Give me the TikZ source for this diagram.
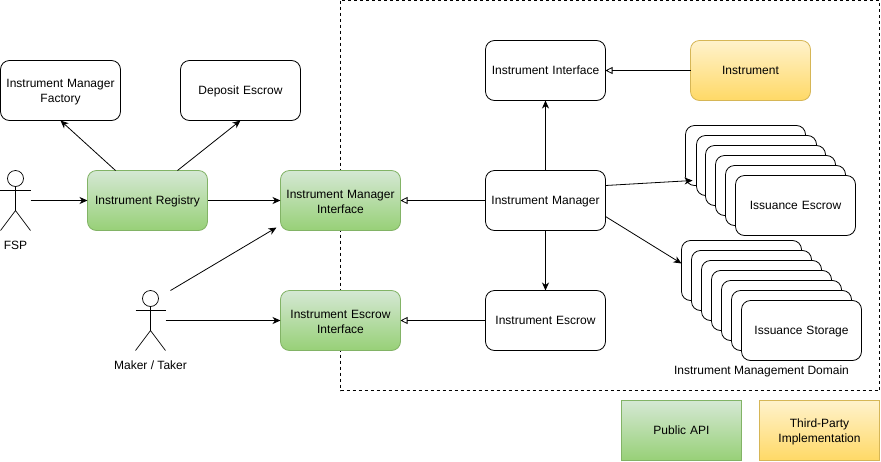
\documentclass[tikz,border=0pt]{standalone}
\usepackage{fontspec}
\setmainfont{Liberation Sans}
\usetikzlibrary{calc,arrows.meta}

\definecolor{apitop}{HTML}{D5E8D4}
\definecolor{apibottom}{HTML}{97D077}
\definecolor{apiline}{HTML}{82B366}
\definecolor{partytop}{HTML}{FFF2CC}
\definecolor{partybottom}{HTML}{FFD966}
\definecolor{partyline}{HTML}{D6B656}

\tikzset{
	box/.style={draw, line width=0.8pt, rounded corners=9pt, fill=white, align=center,
		minimum width=120pt, minimum height=60pt, inner sep=2pt, outer sep=0pt, text width=116pt,
		execute at end node={\vspace*{-3pt}}},
	publicbox/.style={box, draw=apiline, top color=apitop, bottom color=apibottom},
	thirdbox/.style={box, draw=partyline, top color=partytop, bottom color=partybottom},
	actor/.style={line width=0.7pt},
	flow/.style={-{Stealth[length=8pt,width=7pt,inset=2.5pt]}, line width=0.8pt},
	realize/.style={-{Triangle[open,length=7pt,width=7pt]}, line width=0.8pt},
	caption/.style={inner sep=1pt}
}

\begin{document}
\begin{tikzpicture}[x=1pt, y=-1pt, font=\fontsize{12}{14.5}\selectfont]

	\useasboundingbox (-0.5,-0.5) rectangle (880.5,460.5);

	% ---- domain frame

	\draw[dashed, dash pattern=on 3pt off 3pt, line width=0.8pt] (340,0) rectangle (879,390);

	% ---- boxes

	\node[box] (factory) at (60,90) {Instrument Manager\\Factory};
	\node[box] (deposit) at (240,90) {Deposit Escrow};
	\node[publicbox] (registry) at (147,200) {Instrument Registry};
	\node[publicbox] (managerapi) at (340,200) {Instrument Manager\\Interface};
	\node[publicbox] (escrowapi) at (340,320) {Instrument Escrow\\Interface};
	\node[box] (interface) at (545,70) {Instrument Interface};
	\node[thirdbox] (instrument) at (750,70) {Instrument};
	\node[box] (manager) at (545,200) {Instrument Manager};
	\node[box] (escrow) at (545,320) {Instrument Escrow};

	% ---- stacks

	\foreach \i/\x/\y in {1/745/155, 2/756/165, 3/765/175, 4/775/185, 5/785/195} {
		\node[box] (issuanceescrow\i) at (\x,\y) {};
	}
	\node[box] (issuanceescrow) at (795,205) {Issuance Escrow};

	\foreach \i in {1,...,6} {
		\node[box] (issuancestorage\i) at ({731+10*\i},{260+10*\i}) {};
	}
	\node[box] (issuancestorage) at (801,330) {Issuance Storage};

	\node[caption] (domain) at (761,371) {Instrument Management Domain};

	% ---- legend

	\node[publicbox, rounded corners=0pt] (legendapi) at (681,430) {Public API};
	\node[thirdbox, rounded corners=0pt] (legendparty) at (819,430) {Third-Party\\Implementation};

	% ---- actors

	\coordinate (fsp) at (15,190);
	\coordinate (maker) at (150,310);

	\foreach \a in {fsp,maker} {
		\draw[actor] ($(\a)+(0,-12)$) circle (8pt);
		\draw[actor] ($(\a)+(-15,0)$) -- ($(\a)+(15,0)$);
		\draw[actor] ($(\a)+(0,-4)$) -- ($(\a)+(0,20)$);
		\draw[actor] ($(\a)+(-15,40)$) -- ($(\a)+(0,20)$) -- ($(\a)+(15,40)$);
	}

	\node[caption] (fsplabel) at (15,245) {FSP};
	\node[caption] (makerlabel) at (150,365) {Maker / Taker};

	% ---- free ends

	\coordinate (fspout) at (30,200);
	\coordinate (makerup) at (170,290);
	\coordinate (makerout) at (165,320);
	\coordinate (stackone) at (692,180);
	\coordinate (stacktwo) at (681,263);

	% ---- connectors

	\draw[flow] (fspout) -- (registry.west);
	\draw[flow] ([xshift=28pt]registry.north west) -- (factory.south);
	\draw[flow] ([xshift=90pt]registry.north west) -- (deposit.south);
	\draw[flow] (registry.east) -- (managerapi.west);
	\draw[flow] (makerup) -- ([xshift=-4pt,yshift=3pt]managerapi.south west);
	\draw[flow] (makerout) -- (escrowapi.west);
	\draw[flow] (manager.north) -- (interface.south);
	\draw[flow] (manager.south) -- (escrow.north);
	\draw[flow] ([yshift=15pt]manager.east) -- (stackone);
	\draw[flow] ([yshift=-16pt]manager.east) -- (stacktwo);

	\draw[realize] (instrument.west) -- (interface.east);
	\draw[realize] (manager.west) -- (managerapi.east);
	\draw[realize] (escrow.west) -- (escrowapi.east);

\end{tikzpicture}
\end{document}
